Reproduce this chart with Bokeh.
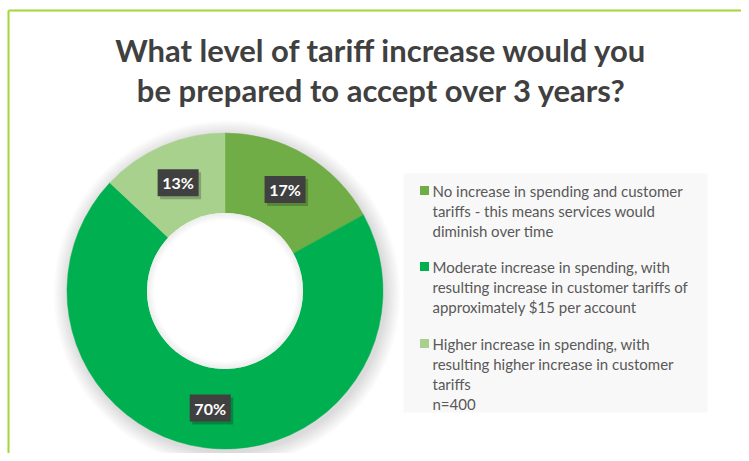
import math
from bokeh.plotting import figure
from bokeh.models import Range1d
from bokeh.core.properties import value
from bokeh.embed import file_html
from bokeh.resources import INLINE

# ---- data ----
categories = [
    "No increase in spending and customer tariffs - this means services would diminish over time",
    "Moderate increase in spending, with resulting increase in customer tariffs of approximately $15 per account",
    "Higher increase in spending, with resulting higher increase in customer tariffs",
]
legend_lines = [
    ["No increase in spending and customer", "tariffs - this means services would", "diminish over time"],
    ["Moderate increase in spending, with", "resulting increase in customer tariffs of", "approximately $15 per account"],
    ["Higher increase in spending, with", "resulting higher increase in customer", "tariffs", "n=400"],
]
percent_values = [17, 70, 13]
slice_colors = ["#70AD47", "#00B050", "#A9D18E"]
title_lines = ["What level of tariff increase would you", "be prepared to accept over 3 years?"]

W, H = 741, 453


def X(px):
    return px


def Y(py):
    return H - py


p = figure(width=W, height=H, x_range=Range1d(0, W), y_range=Range1d(0, H),
           output_backend="svg", toolbar_location=None, min_border=0)
p.axis.visible = False
p.grid.visible = False
p.outline_line_color = None
p.background_fill_color = "white"
p.border_fill_color = "white"

# frame border
p.line([X(8), X(8)], [Y(10), 0], line_color="#A2D63A", line_width=2)
p.line([X(8), W], [Y(10), Y(10)], line_color="#A2D63A", line_width=2)

# title
FONT = "Lato"
for i, t in enumerate(title_lines):
    p.text([X(381)], [Y(49 + 40 * i)], text=[t], text_align="center", text_baseline="middle",
           text_font=value(FONT), text_font_style="bold", text_font_size="31px", text_color="#404040")

# donut
cx, cy = X(224.5), Y(290.5)
r_out, r_in = 158, 78
# soft outer shadow
for k in range(12):
    p.annular_wedge(x=cx + 2, y=cy - 3, inner_radius=r_in + 5, outer_radius=r_out + 1.3 * (k + 1),
                    start_angle=0, end_angle=2 * math.pi, fill_color="#000000", fill_alpha=0.01,
                    line_color=None)

total = sum(percent_values)
start = 0.0
starts, ends, mids = [], [], []
for v in percent_values:
    frac = v / total
    starts.append(start)
    ends.append(start + frac)
    mids.append(start + frac / 2)
    start += frac

for s, e, c in zip(starts, ends, slice_colors):
    # clockwise from 12 o'clock
    a1 = math.pi / 2 - e * 2 * math.pi
    a2 = math.pi / 2 - s * 2 * math.pi
    p.annular_wedge(x=cx, y=cy, inner_radius=r_in, outer_radius=r_out, start_angle=a1, end_angle=a2,
                    fill_color=c, line_color=c, line_width=0.5)

# hole with faint inner shadow at its edge
p.circle(x=cx, y=cy, radius=r_in, fill_color="white", line_color=None)
for k in range(6):
    p.annular_wedge(x=cx, y=cy, inner_radius=r_in - 1.2 * (k + 1), outer_radius=r_in,
                    start_angle=0, end_angle=2 * math.pi, fill_color="#000000", fill_alpha=0.012,
                    line_color=None)

# data labels
r_mid = (r_in + r_out) / 2
for m, v in zip(mids, percent_values):
    ang = math.pi / 2 - m * 2 * math.pi
    lx = cx + r_mid * math.cos(ang)
    ly = cy + r_mid * math.sin(ang)
    p.rect(x=[lx + 2.5], y=[ly - 3], width=41, height=27, width_units="screen", height_units="screen",
           fill_color="#000000", fill_alpha=0.22, line_color=None)
    p.rect(x=[lx], y=[ly], width=41, height=27, width_units="screen", height_units="screen",
           fill_color="#404040", line_color=None)
    p.text([lx], [ly], text=[f"{v}%"], text_align="center", text_baseline="middle",
           text_font=value(FONT), text_font_style="bold", text_font_size="16px", text_color="white")

# legend box
p.quad(left=X(403), right=X(707), top=Y(173), bottom=Y(412), fill_color="#F8F8F8", line_color=None)
item_y0 = [190, 266, 343]
for lines, c, y0 in zip(legend_lines, slice_colors, item_y0):
    p.rect(x=[X(424)], y=[Y(y0)], width=9, height=9, width_units="screen", height_units="screen",
           fill_color=c, line_color=None)
    for j, ln in enumerate(lines):
        p.text([X(432)], [Y(y0 + 20 * j)], text=[ln], text_align="left", text_baseline="middle",
               text_font=value(FONT), text_font_size="15px", text_color="#595959")

open("out.html", "w").write(file_html(p, INLINE))
